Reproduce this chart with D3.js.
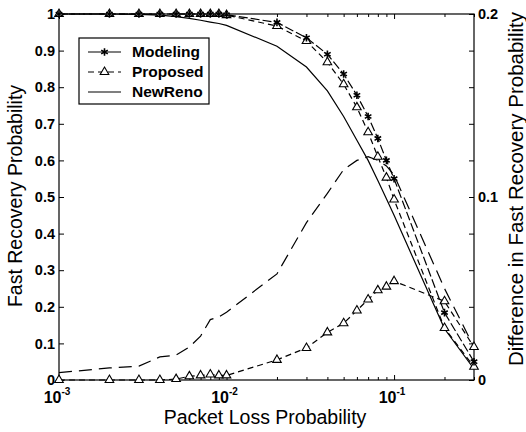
<!DOCTYPE html>
<html>
<head>
<meta charset="utf-8">
<script src="https://cdn.jsdelivr.net/npm/d3@7"></script>
<style>
body { margin: 0; background: #fff; }
text { font-family: "Liberation Sans", Arial, sans-serif; fill: #000; }
</style>
</head>
<body>
<div id="chart"></div>
<script>
// packet loss probabilities (x)
var lossRate = [0.001, 0.002, 0.003, 0.004, 0.005, 0.006, 0.007, 0.008, 0.009, 0.01,
                0.02, 0.03, 0.04, 0.05, 0.06, 0.07, 0.08, 0.09, 0.1, 0.2, 0.3];

// left axis: fast recovery probability
var modeling = [1, 1, 1, 1, 1, 1, 1, 1, 1, 0.998,
                0.977, 0.935, 0.89, 0.836, 0.778, 0.72, 0.66, 0.60, 0.55, 0.184, 0.05];
var proposed = [1, 1, 1, 1, 1, 1, 1, 1, 1, 0.997,
                0.967, 0.926, 0.868, 0.808, 0.745, 0.677, 0.61, 0.553, 0.493, 0.142, 0.036];
var newReno = [1, 1, 0.999, 0.997, 0.993, 0.988, 0.983, 0.978, 0.974, 0.969,
               0.912, 0.855, 0.79, 0.72, 0.655, 0.6, 0.545, 0.495, 0.45, 0.14, 0.03];

// right axis: difference in fast recovery probability
var diffNewReno = [0.004, 0.0066, 0.0076, 0.0126, 0.0136, 0.018, 0.024, 0.033, 0.0344, 0.037,
                   0.058, 0.086, 0.102, 0.115, 0.12, 0.122, 0.12, 0.117, 0.112, 0.05, 0.018];
var diffProposed = [0, 0, 0, 0, 0.0005, 0.002, 0.0025, 0.003, 0.0025, 0.0025,
                    0.011, 0.0175, 0.026, 0.031, 0.038, 0.044, 0.049, 0.051, 0.054, 0.043, 0.018];

var leftTicks = [0, 0.1, 0.2, 0.3, 0.4, 0.5, 0.6, 0.7, 0.8, 0.9, 1];
var rightTicks = [0, 0.02, 0.04, 0.06, 0.08, 0.1, 0.12, 0.14, 0.16, 0.18, 0.2];
var rightTickLabels = ["0", "", "", "", "", "0.1", "", "", "", "", "0.2"];
var xMajorTicks = [0.001, 0.01, 0.1];
var xTickExp = ["-3", "-2", "-1"];
var legendNames = ["Modeling", "Proposed", "NewReno"];

var width = 526, height = 432;
var plotL = 59, plotR = 474, plotT = 14, plotB = 380;

var x = d3.scaleLog().domain([0.001, 0.3]).range([plotL, plotR]);
var yL = d3.scaleLinear().domain([0, 1]).range([plotB, plotT]);
var yR = d3.scaleLinear().domain([0, 0.2]).range([plotB, plotT]);

var xMinorTicks = [];
xMajorTicks.forEach(function (d) {
    for (var k = 2; k <= 9; k++) {
        var v = +(d * k).toPrecision(3);
        if (v <= 0.3 + 1e-9) xMinorTicks.push(v);
    }
});

var svg = d3.select("#chart").append("svg")
    .attr("width", width)
    .attr("height", height);

// frame
svg.append("rect")
    .attr("x", plotL).attr("y", plotT)
    .attr("width", plotR - plotL).attr("height", plotB - plotT)
    .attr("fill", "none").attr("stroke", "#000").attr("stroke-width", 1.2);

function styleAxis(g) {
    g.select(".domain").remove();
    g.selectAll(".tick line").attr("stroke", "#000");
    g.selectAll("text").style("font-size", "14.5px").style("font-weight", "bold")
        .style("font-family", "'Liberation Sans', Arial, sans-serif");
}

// left axis
svg.append("g")
    .attr("transform", "translate(" + plotL + ",0)")
    .call(d3.axisLeft(yL).tickValues(leftTicks).tickSize(-5).tickPadding(4)
        .tickFormat(function (d) { return d; }))
    .call(styleAxis);

// right axis
svg.append("g")
    .attr("transform", "translate(" + plotR + ",0)")
    .call(d3.axisRight(yR).tickValues(rightTicks).tickSize(-5).tickPadding(4)
        .tickFormat(function (d, i) { return rightTickLabels[i]; }))
    .call(styleAxis);

// bottom and top x ticks
[[d3.axisBottom, plotB], [d3.axisTop, plotT]].forEach(function (a) {
    svg.append("g")
        .attr("transform", "translate(0," + a[1] + ")")
        .call(a[0](x).tickValues(xMinorTicks).tickSize(-3).tickFormat(""))
        .call(styleAxis);
    svg.append("g")
        .attr("transform", "translate(0," + a[1] + ")")
        .call(a[0](x).tickValues(xMajorTicks).tickSize(-5).tickFormat(""))
        .call(styleAxis);
});

// x tick labels 10^n
xMajorTicks.forEach(function (d, i) {
    var t = svg.append("text")
        .attr("x", x(d) - 2).attr("y", 403)
        .attr("text-anchor", "middle")
        .style("font-size", "16px").style("font-weight", "bold");
    t.append("tspan").text("10");
    t.append("tspan").attr("dy", -8).style("font-size", "10px").text(xTickExp[i]);
});

// axis titles
svg.append("text")
    .attr("x", 265).attr("y", 424)
    .attr("text-anchor", "middle")
    .style("font-size", "19.5px")
    .text("Packet Loss Probability");

svg.append("text")
    .attr("transform", "translate(22,196) rotate(-90)")
    .attr("text-anchor", "middle")
    .style("font-size", "19.5px")
    .text("Fast Recovery Probability");

svg.append("text")
    .attr("transform", "translate(523,189) rotate(-90)")
    .attr("text-anchor", "middle")
    .style("font-size", "20.5px")
    .text("Difference in Fast Recovery Probability");

// series
var series = [
    { values: modeling, y: yL, dash: "9,3", marker: "star" },
    { values: proposed, y: yL, dash: "6,4", marker: "tri" },
    { values: newReno, y: yL, dash: null, marker: null },
    { values: diffNewReno, y: yR, dash: "13,7", marker: null },
    { values: diffProposed, y: yR, dash: "6,4", marker: "tri" }
];

var starPath = d3.symbol().type(d3.symbolAsterisk).size(40)();
var triPath = d3.symbol().type(d3.symbolTriangle).size(32)();

function drawMarkers(g, s) {
    g.append("g").selectAll("path")
        .data(s.values)
        .enter().append("path")
        .attr("transform", function (d, i) { return "translate(" + x(lossRate[i]) + "," + s.y(d) + ")"; })
        .attr("d", s.marker === "star" ? starPath : triPath)
        .attr("fill", s.marker === "star" ? "none" : "#fff")
        .attr("stroke", "#000")
        .attr("stroke-width", s.marker === "star" ? 1.6 : 1.1);
}

// lines first
series.forEach(function (s) {
    var line = d3.line()
        .x(function (d, i) { return x(lossRate[i]); })
        .y(function (d) { return s.y(d); });

    svg.append("path")
        .datum(s.values)
        .attr("d", line)
        .attr("fill", "none")
        .attr("stroke", "#000")
        .attr("stroke-width", 1.2)
        .attr("stroke-dasharray", s.dash);
});
// triangles, then stars on top
series.filter(function (s) { return s.marker === "tri"; }).forEach(function (s) { drawMarkers(svg, s); });
series.filter(function (s) { return s.marker === "star"; }).forEach(function (s) { drawMarkers(svg, s); });

// legend
var legend = svg.append("g");
legend.append("rect")
    .attr("x", 79).attr("y", 38).attr("width", 130).attr("height", 66)
    .attr("fill", "#fff").attr("stroke", "#000").attr("stroke-width", 1.2);

var legendItems = [
    { dash: null, marker: "star" },
    { dash: "6,4", marker: "tri" },
    { dash: null, marker: null }
];
legendItems.forEach(function (it, i) {
    var cy = 52 + i * 20;
    legend.append("line")
        .attr("x1", 88).attr("x2", 121).attr("y1", cy).attr("y2", cy)
        .attr("stroke", "#000").attr("stroke-width", 1.2)
        .attr("stroke-dasharray", it.dash);
    if (it.marker) {
        legend.append("path")
            .attr("transform", "translate(104.5," + cy + ")")
            .attr("d", it.marker === "star" ? starPath : triPath)
            .attr("fill", it.marker === "star" ? "none" : "#fff")
            .attr("stroke", "#000")
            .attr("stroke-width", it.marker === "star" ? 1.6 : 1.1);
    }
    legend.append("text")
        .attr("x", 132).attr("y", cy + 5)
        .style("font-size", "15.5px").style("font-weight", "bold")
        .text(legendNames[i]);
});
</script>
</body>
</html>
